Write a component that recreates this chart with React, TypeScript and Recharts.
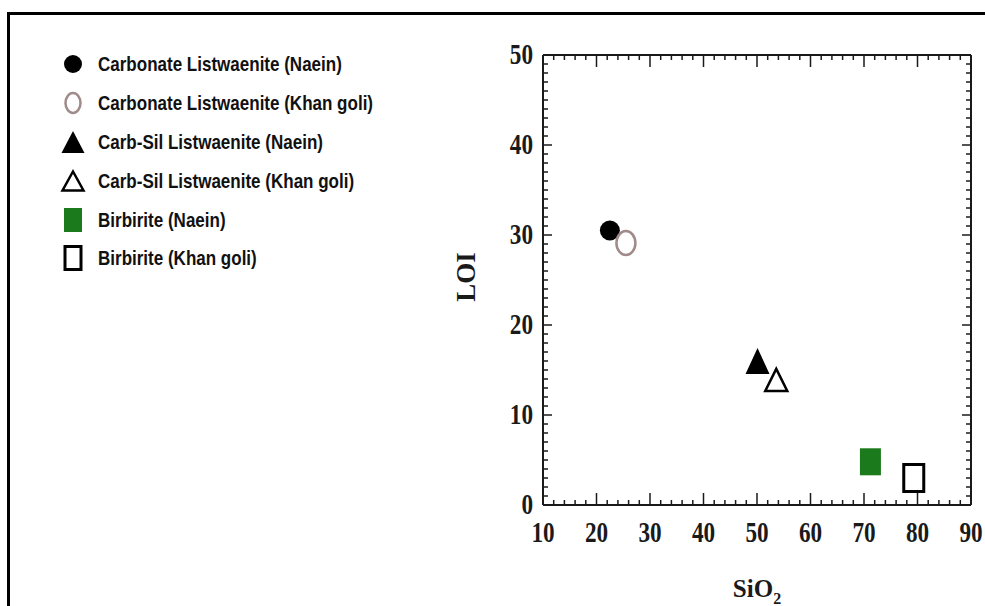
import { ScatterChart, Scatter, XAxis, YAxis, Legend, Label } from 'recharts';

// values
const seriesNames = [
  'Carbonate Listwaenite (Naein)',
  'Carbonate Listwaenite (Khan goli)',
  'Carb-Sil Listwaenite (Naein)',
  'Carb-Sil Listwaenite (Khan goli)',
  'Birbirite (Naein)',
  'Birbirite (Khan goli)',
];
const markerKinds = ['dot', 'ring', 'tri', 'triOpen', 'box', 'boxOpen'];
const sio2 = [22.5, 25.5, 50.1, 53.6, 71.2, 79.3];
const loi = [30.5, 29.1, 16.0, 13.9, 4.8, 3.0];

const xTicks = [10, 12, 14, 16, 18, 20, 22, 24, 26, 28, 30, 32, 34, 36, 38, 40, 42, 44, 46, 48, 50, 52, 54, 56, 58, 60, 62, 64, 66, 68, 70, 72, 74, 76, 78, 80, 82, 84, 86, 88, 90];
const yTicks = [0, 1, 2, 3, 4, 5, 6, 7, 8, 9, 10, 11, 12, 13, 14, 15, 16, 17, 18, 19, 20, 21, 22, 23, 24, 25, 26, 27, 28, 29, 30, 31, 32, 33, 34, 35, 36, 37, 38, 39, 40, 41, 42, 43, 44, 45, 46, 47, 48, 49, 50];

const allPoints = sio2.map((x, i) => ({ x, y: loi[i] }));

const INK = '#1a1a1a';
const SERIF = '"Liberation Serif", "Times New Roman", serif';
const SANS = '"Liberation Sans", Arial, sans-serif';

function Marker({ kind, cx, cy, big }: { kind: string; cx: number; cy: number; big: boolean }) {
  if (kind === 'dot') return <circle cx={cx} cy={cy} r={big ? 10 : 9} fill="#000" />;
  if (kind === 'ring') {
    return <ellipse cx={cx} cy={cy} rx={big ? 9.5 : 7.5} ry={big ? 12 : 10} fill="#fff" stroke="#a08a8a" strokeWidth={2.5} />;
  }
  if (kind === 'tri' || kind === 'triOpen') {
    const open = kind === 'triOpen';
    const w = big ? (open ? 22 : 24) : open ? 21 : 23;
    const h = big ? (open ? 22 : 26) : open ? 19 : 22;
    const pts = `${cx},${cy - h / 2} ${cx + w / 2},${cy + h / 2} ${cx - w / 2},${cy + h / 2}`;
    return <polygon points={pts} fill={open ? '#fff' : '#000'} stroke="#000" strokeWidth={open ? 2.5 : 0} />;
  }
  const open = kind === 'boxOpen';
  const w = big ? (open ? 20 : 21) : open ? 16 : 18;
  const h = big ? 27 : open ? 23 : 24;
  return (
    <rect x={cx - w / 2} y={cy - h / 2} width={w} height={h}
      fill={open ? '#fff' : '#1b7a1b'} stroke={open ? '#000' : 'none'} strokeWidth={open ? 3 : 0} />
  );
}

const BottomTick = ({ x, y, payload }: any) => {
  const major = payload.value % 10 === 0;
  return (
    <g>
      <line x1={x} x2={x} y1={y} y2={y - (major ? 12 : 5)} stroke={INK} strokeWidth={1.5} />
      {major && (
        <text transform={`translate(${x},${y + 28}) scale(0.8,1)`} textAnchor="middle" dominantBaseline="central"
          fontFamily={SERIF} fontWeight="bold" fontSize={29} fill={INK}>
          {payload.value}
        </text>
      )}
    </g>
  );
};

const TopTick = ({ x, y, payload }: any) => {
  const major = payload.value % 10 === 0;
  return <line x1={x} x2={x} y1={y} y2={y + (major ? 12 : 5)} stroke={INK} strokeWidth={1.5} />;
};

const LeftTick = ({ x, y, payload }: any) => {
  const major = payload.value % 10 === 0;
  return (
    <g>
      <line x1={x} x2={x + (major ? 9 : 5)} y1={y} y2={y} stroke={INK} strokeWidth={1.5} />
      {major && (
        <text transform={`translate(${x - 10},${y}) scale(0.8,1)`} textAnchor="end" dominantBaseline="central"
          fontFamily={SERIF} fontWeight="bold" fontSize={29} fill={INK}>
          {payload.value}
        </text>
      )}
    </g>
  );
};

const RightTick = ({ x, y, payload }: any) => {
  const major = payload.value % 10 === 0;
  return <line x1={x} x2={x - (major ? 9 : 5)} y1={y} y2={y} stroke={INK} strokeWidth={1.5} />;
};

const XTitle = ({ viewBox }: any) => (
  <text x={viewBox.x + viewBox.width / 2} y={viewBox.y + 92} textAnchor="middle"
    fontFamily={SERIF} fontWeight="bold" fontSize={25} fill={INK}>
    SiO<tspan fontSize={16} dy={7}>2</tspan>
  </text>
);

const YTitle = ({ viewBox }: any) => {
  const cx = viewBox.x + 3;
  const cy = viewBox.y + viewBox.height / 2 - 3;
  return (
    <text x={cx} y={cy} transform={`rotate(-90 ${cx} ${cy})`} textAnchor="middle" dominantBaseline="central"
      fontFamily={SERIF} fontWeight="bold" fontSize={27} fill={INK}>
      LOI
    </text>
  );
};

const LegendList = ({ payload }: any) => {
  const items = (payload || [])
    .filter((p: any) => seriesNames.includes(p.value))
    .sort((a: any, b: any) => seriesNames.indexOf(a.value) - seriesNames.indexOf(b.value));
  return (
    <div>
      {items.map((p: any) => {
        const i = seriesNames.indexOf(p.value);
        return (
          <div key={p.value} style={{ height: 38.8, display: 'flex', alignItems: 'center' }}>
            <svg width={26} height={30} style={{ flex: 'none' }}>
              <Marker kind={markerKinds[i]} cx={13} cy={15} big={false} />
            </svg>
            <span style={{
              marginLeft: 12, whiteSpace: 'nowrap', display: 'inline-block', transform: 'scaleX(0.81)',
              transformOrigin: 'left center', fontFamily: SANS, fontWeight: 'bold', fontSize: 21, color: '#111',
            }}>
              {p.value}
            </span>
          </div>
        );
      })}
    </div>
  );
};

export default function App() {
  return (
    <div style={{ position: 'fixed', left: 0, top: 0, width: 985, height: 606, overflow: 'hidden', background: '#fff' }}>
      <div style={{
        position: 'absolute', left: 7, top: 12, width: 1000, height: 620,
        borderTop: '3px solid #000', borderLeft: '3px solid #000', pointerEvents: 'none',
      }} />
      <ScatterChart width={985} height={606} margin={{ top: 54, right: 13, bottom: 41, left: 463 }}>
        <XAxis xAxisId="top" orientation="top" dataKey="x" type="number" domain={[10, 90]} allowDataOverflow ticks={xTicks}
          interval={0} height={1} tickSize={0} tickMargin={0} tickLine={false} tick={<TopTick />}
          axisLine={{ stroke: INK, strokeWidth: 2 }} />
        <YAxis yAxisId="right" orientation="right" dataKey="y" type="number" domain={[0, 50]} allowDataOverflow ticks={yTicks}
          interval={0} width={1} tickSize={0} tickMargin={0} tickLine={false} tick={<RightTick />}
          axisLine={{ stroke: INK, strokeWidth: 2 }} />
        <XAxis dataKey="x" type="number" domain={[10, 90]} allowDataOverflow ticks={xTicks} interval={0}
          height={60} tickSize={0} tickMargin={0} tickLine={false} tick={<BottomTick />}
          axisLine={{ stroke: INK, strokeWidth: 2 }}>
          <Label content={<XTitle />} />
        </XAxis>
        <YAxis dataKey="y" type="number" domain={[0, 50]} allowDataOverflow ticks={yTicks} interval={0}
          width={80} tickSize={0} tickMargin={0} tickLine={false} tick={<LeftTick />}
          axisLine={{ stroke: INK, strokeWidth: 2 }}>
          <Label content={<YTitle />} />
        </YAxis>
        <Legend layout="vertical" align="center" verticalAlign="middle" content={<LegendList />}
          wrapperStyle={{ left: 60, top: 45, width: 340, height: 240 }} />
        {/* invisible series so the frame axes (top / right) get drawn */}
        <Scatter name="frame" xAxisId="top" yAxisId="right" data={allPoints} legendType="none"
          isAnimationActive={false} shape={() => <g />} />
        {seriesNames.map((name, i) => (
          <Scatter key={name} name={name} data={[{ x: sio2[i], y: loi[i] }]} isAnimationActive={false}
            shape={(p: any) => <Marker kind={markerKinds[i]} cx={p.cx} cy={p.cy} big />} />
        ))}
      </ScatterChart>
    </div>
  );
}
